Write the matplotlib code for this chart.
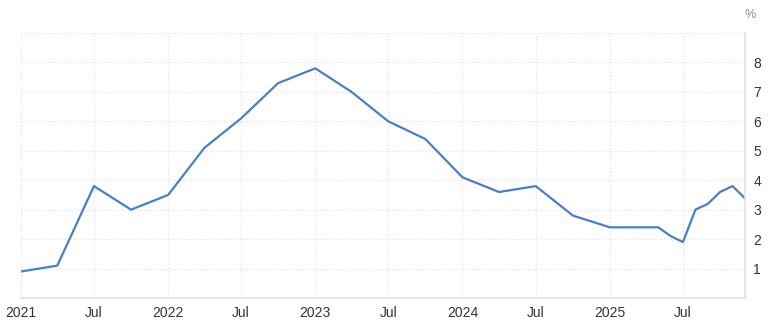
import matplotlib.pyplot as plt
import pandas as pd

plt.rcParams['font.family'] = ['Liberation Sans', 'DejaVu Sans']

# data
datas = ['2021-01-01', '2021-04-01', '2021-07-01', '2021-10-01',
         '2022-01-01', '2022-04-01', '2022-07-01', '2022-10-01',
         '2023-01-01', '2023-04-01', '2023-07-01', '2023-10-01',
         '2024-01-01', '2024-04-01', '2024-07-01', '2024-10-01',
         '2025-01-01', '2025-05-01', '2025-06-01', '2025-07-01',
         '2025-08-01', '2025-09-01', '2025-10-01', '2025-11-01', '2025-12-01']
valores = [0.9, 1.1, 3.8, 3.0,
           3.5, 5.1, 6.1, 7.3,
           7.8, 7.0, 6.0, 5.4,
           4.1, 3.6, 3.8, 2.8,
           2.4, 2.4, 2.1, 1.9,
           3.0, 3.2, 3.6, 3.8, 3.4]
ticks_x = ['2021-01-01', '2021-07-01', '2022-01-01', '2022-07-01', '2023-01-01',
           '2023-07-01', '2024-01-01', '2024-07-01', '2025-01-01', '2025-07-01']
rotulos_x = ['2021', 'Jul', '2022', 'Jul', '2023', 'Jul', '2024', 'Jul', '2025', 'Jul']
ticks_y = [0, 1, 2, 3, 4, 5, 6, 7, 8, 9]
rotulos_y = ['', '1', '2', '3', '4', '5', '6', '7', '8', '']

x = pd.to_datetime(datas)

fig = plt.figure(figsize=(7.69, 3.23), dpi=100)
ax = fig.add_axes([0.0273, 0.0774, 0.9415, 0.8204])

ax.plot(x, valores, color='#4a7fc1', linewidth=1.6)

ax.set_xlim(pd.Timestamp('2021-01-01'), pd.Timestamp('2025-12-02'))
ax.set_ylim(0, 9)

ax.set_xticks(pd.to_datetime(ticks_x))
ax.set_xticklabels(rotulos_x)
ax.set_yticks(ticks_y)
ax.set_yticklabels(rotulos_y)
ax.yaxis.tick_right()

ax.tick_params(axis='both', length=0, labelsize=10, colors='#333333')
ax.tick_params(axis='x', pad=6)
ax.tick_params(axis='y', pad=6)

ax.grid(True, color='#e2e2e2', linestyle=':', linewidth=0.9)
for lado in ['top', 'left']:
    ax.spines[lado].set_visible(False)
for lado in ['right', 'bottom']:
    ax.spines[lado].set_color('#e0e0e0')
    ax.spines[lado].set_linewidth(1.2)

fig.text(0.976, 0.955, '%', fontsize=9, color='#888888', ha='center', va='center')

plt.savefig('out.png', dpi=100)
